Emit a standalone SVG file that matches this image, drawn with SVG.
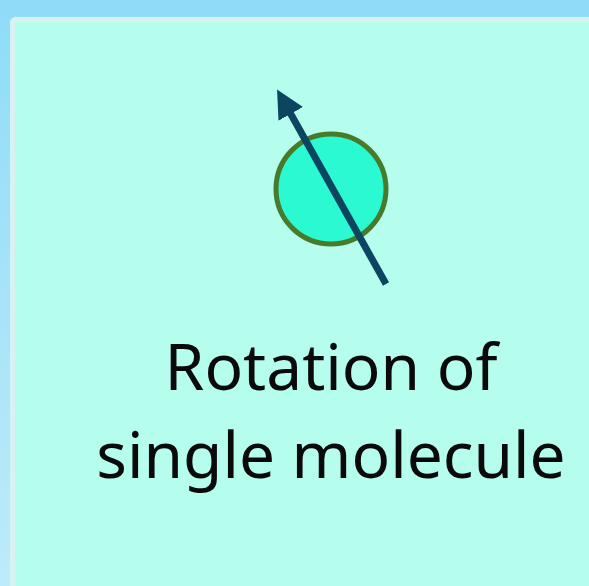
<svg xmlns="http://www.w3.org/2000/svg" width="589" height="586" viewBox="0 0 589 586">
<defs>
<linearGradient id="bg" x1="0" y1="0" x2="0" y2="1">
<stop offset="0" stop-color="#8FDCF8"/>
<stop offset="1" stop-color="#BDEBF9"/>
</linearGradient>
<marker id="ah" viewBox="0 0 10 10" refX="2" refY="5" markerWidth="4" markerHeight="4" orient="auto" markerUnits="strokeWidth">
<path d="M0,0 L10,5 L0,10 z" fill="#0B4560"/>
</marker>
<style>
.lbl{font-family:"Noto Sans","Open Sans",sans-serif;font-size:64px;fill:#0a0a0a;text-anchor:middle}
</style>
</defs>
<rect x="0" y="0" width="589" height="586" fill="url(#bg)"/>
<rect id="panel" x="12.5" y="19.5" width="590" height="580" rx="3" fill="#B5FDED" stroke="#D8F1F2" stroke-width="5"/>
<g id="molecule">
<circle cx="331" cy="189" r="55" fill="#2BF9D1" stroke="#477A2A" stroke-width="5"/>
</g>
<g id="connectors">
<line x1="386" y1="284" x2="288" y2="109" stroke="#0B4560" stroke-width="7" marker-end="url(#ah)"/>
</g>
<g id="label">
<text class="lbl" x="331" y="390">Rotation of</text>
<text class="lbl" x="331" y="478">single molecule</text>
</g>
</svg>
